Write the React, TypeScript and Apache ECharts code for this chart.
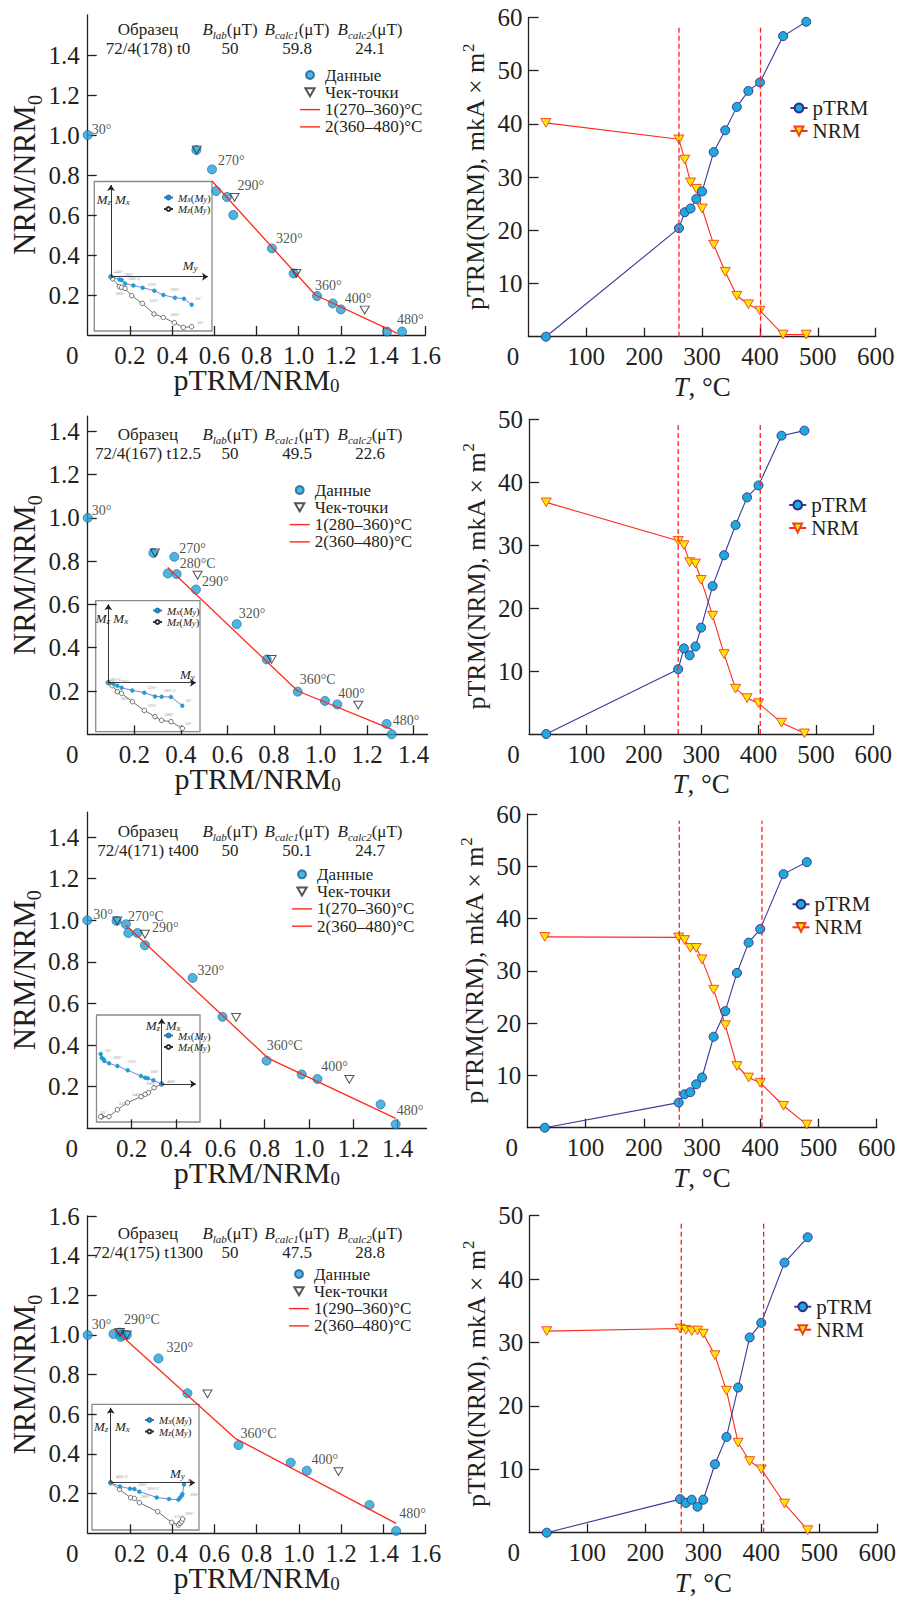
import { useEffect, useRef } from 'react';
import * as echarts from 'echarts';

const SERIF = '"Liberation Serif", "Times New Roman", Times, serif';
const INK = '#231f20';
const DOT = '#1fa3db';
const DOT_EDGE = '#1b5f8e';
const FIT = '#ff2a1a';
const TRIANGLE = 'path://M0,0L10,0L5,8.66Z';
const DASH_ICON = 'path://M0,0L20,0L20,1.4L0,1.4Z';

// ---------- heating steps, °C ----------
const temps = [30, 260, 270, 280, 290, 300, 320, 340, 360, 380, 400, 440, 480];

// ---------- pTRM acquired / NRM remaining, mkA·m² ----------
const ptrm1 = [0, 20.4, 23.4, 24.1, 25.9, 27.3, 34.7, 38.8, 43.2, 46.2, 47.8, 56.5, 59.2];
const nrm1 = [40.2, 37.1, 33.3, 29.0, 27.8, 24.1, 17.3, 12.2, 7.7, 6.1, 4.9, 0.4, 0.4];
const ptrm2 = [0, 10.3, 13.6, 12.5, 13.9, 16.9, 23.5, 28.4, 33.2, 37.6, 39.5, 47.4, 48.2];
const nrm2 = [36.8, 30.7, 30.0, 27.3, 27.1, 24.5, 18.8, 12.7, 7.2, 5.7, 4.9, 1.8, 0.1];
const ptrm3 = [0, 4.8, 6.4, 6.8, 8.3, 9.6, 17.4, 22.3, 29.6, 35.4, 38.0, 48.5, 50.8];
const nrm3 = [36.5, 36.4, 35.9, 34.4, 34.4, 32.2, 26.4, 19.6, 11.8, 9.6, 8.6, 4.2, 0.6];
const ptrm4 = [0, 5.3, 4.7, 5.2, 4.1, 5.2, 10.8, 15.1, 22.9, 30.8, 33.1, 42.6, 46.6];
const nrm4 = [31.8, 32.2, 32.0, 31.8, 31.9, 31.4, 28.0, 22.4, 14.2, 11.3, 10.0, 4.6, 0.4];

// blocking-temperature interval boundaries (dashed lines), °C
const cutoffs1 = [260, 401];
const cutoffs2 = [260, 403];
const cutoffs3 = [261, 403];
const cutoffs4 = [262, 404];

// ---------- Arai diagrams: [pTRM/NRM0, NRM/NRM0] ----------
const arai1 = [[0, 1.0], [0.515, 0.925], [0.589, 0.828], [0.609, 0.72], [0.66, 0.69], [0.69, 0.6], [0.873, 0.433], [0.976, 0.308], [1.087, 0.195], [1.161, 0.158], [1.2, 0.128], [1.419, 0.017], [1.49, 0.017]];
const checks1 = [[0.517, 0.925], [0.696, 0.688], [0.989, 0.308], [1.313, 0.125]];
const fit1 = [[0.589, 0.77], [1.079, 0.2], [1.467, 0.008]];
const fitNames1 = ['1(270–360)°C', '2(360–480)°C'];

const arai2 = [[0, 1.0], [0.282, 0.838], [0.372, 0.82], [0.344, 0.743], [0.382, 0.74], [0.465, 0.669], [0.64, 0.509], [0.769, 0.346], [0.902, 0.197], [1.019, 0.154], [1.072, 0.138], [1.284, 0.048], [1.306, 0.0]];
const checks2 = [[0.289, 0.838], [0.472, 0.735], [0.79, 0.346], [1.162, 0.135]];
const fit2 = [[0.344, 0.771], [0.902, 0.2], [1.306, 0.023]];
const fitNames2 = ['1(280–360)°C', '2(360–480)°C'];

const arai3 = [[0, 1.0], [0.132, 0.997], [0.174, 0.981], [0.185, 0.939], [0.226, 0.939], [0.26, 0.88], [0.475, 0.723], [0.61, 0.536], [0.809, 0.325], [0.967, 0.259], [1.038, 0.237], [1.323, 0.115], [1.391, 0.019]];
const checks3 = [[0.135, 0.997], [0.26, 0.933], [0.671, 0.533], [1.182, 0.235]];
const fit3 = [[0.174, 0.976], [0.817, 0.336], [1.391, 0.048]];
const fitNames3 = ['1(270–360)°C', '2(360–480)°C'];

const arai4 = [[0, 1.0], [0.122, 1.005], [0.153, 1.012], [0.162, 1.0], [0.156, 0.99], [0.185, 1.0], [0.335, 0.882], [0.472, 0.706], [0.714, 0.445], [0.961, 0.356], [1.037, 0.316], [1.334, 0.143], [1.46, 0.012]];
const checks4 = [[0.153, 1.013], [0.185, 1.0], [0.567, 0.703], [1.187, 0.311]];
const fit4 = [[0.122, 1.033], [0.698, 0.479], [1.46, 0.05]];
const fitNames4 = ['1(290–360)°C', '2(360–480)°C'];

// temperature tags: [d = data point / c = check point, index, text, dx, dy]
const tags1 = [['d', 0, '30°', 4, -6], ['d', 2, '270°', 6, -9], ['c', 1, '290°', 3, -12], ['d', 6, '320°', 4, -10], ['d', 8, '360°', -2, -11], ['c', 3, '400°', -20, -12], ['d', 12, '480°', -5, -12]];
const tags2 = [['d', 0, '30°', 4, -7], ['d', 2, '270°', 5, -8], ['d', 4, '280°C', 3, -11], ['d', 5, '290°', 6, -8], ['d', 6, '320°', 2, -11], ['d', 8, '360°C', 2, -12], ['c', 3, '400°', -20, -12], ['d', 11, '480°', 6, -3]];
const tags3 = [['d', 0, '30°', 6, -6], ['d', 2, '270°C', 2, -8], ['c', 1, '290°', 7, -7], ['d', 6, '320°', 5, -7], ['d', 8, '360°C', 0, -15], ['c', 3, '400°', -28, -13], ['d', 12, '480°', 1, -14]];
const tags4 = [['d', 0, '30°', 4, -10], ['c', 0, '290°C', 4, -13], ['d', 6, '320°', 8, -11], ['d', 8, '360°C', 2, -12], ['c', 3, '400°', -27, -12], ['d', 12, '480°', 3, -17]];

// header table
const samples = ['72/4(178) t0', '72/4(167) t12.5', '72/4(171) t400', '72/4(175) t1300'];
const bLab = [50, 50, 50, 50];
const bCalc1 = [59.8, 49.5, 50.1, 47.5];
const bCalc2 = [24.1, 22.6, 24.7, 28.8];

// ---------- orthogonal projections (relative units) ----------
const zx1 = [[0, 0], [0.83, -0.27], [1.07, -0.33], [1.4, -0.67], [2.23, -0.87], [3.17, -1.1], [4.33, -1.4], [5.23, -1.83], [6.4, -2.1], [7.3, -2.2], [8.07, -2.8]];
const zz1 = [[0, 0], [0.17, -0.2], [0.83, -1.0], [1.07, -1.07], [1.4, -1.17], [2.07, -1.9], [3.13, -2.67], [4.3, -3.73], [5.23, -4.07], [6.33, -4.6], [7.23, -5.07], [8.07, -5.0]];
const zx2 = [[0, 0], [0.5, -0.1], [0.9, -0.3], [1.33, -0.5], [2.4, -0.77], [3.6, -1.0], [4.67, -1.37], [5.33, -1.4], [6.27, -1.43], [7.4, -2.3]];
const zz2 = [[0, 0], [0.4, -0.3], [0.9, -0.9], [1.33, -1.07], [2.4, -1.9], [3.6, -2.77], [4.67, -3.4], [5.33, -3.77], [6.27, -3.9], [7.4, -4.57]];
const zx3 = [[-6.1, 3.0], [-6.0, 2.63], [-5.83, 2.47], [-5.73, 2.3], [-5.27, 2.07], [-4.43, 1.8], [-3.4, 1.37], [-2.07, 0.8], [-1.67, 0.63], [-1.4, 0.57], [-0.83, 0.37], [0, 0]];
const zz3 = [[0, 0], [-0.77, -0.37], [-1.33, -0.87], [-1.67, -1.03], [-2.07, -1.27], [-3.43, -1.87], [-4.43, -2.57], [-5.27, -3.27], [-6.0, -3.27], [-6.1, -3.27]];
const zx4 = [[0, 0], [0.93, -0.37], [1.93, -0.6], [2.37, -0.63], [2.87, -0.9], [4.6, -1.47], [5.83, -1.63], [6.77, -1.7], [6.93, -1.5], [7.1, -1.3], [7.17, -1.13], [7.33, -0.17]];
const zz4 = [[0, 0], [0.87, -0.67], [2.0, -1.5], [2.37, -1.57], [2.87, -2.0], [4.7, -2.9], [6.1, -3.97], [6.77, -4.23], [6.93, -4.07], [7.1, -3.9], [7.2, -3.63]];

// step tags on projections: [x = Mx, z = Mz, index, text, dx, dy]
const zTags1 = [['x', 0, '440°', 3, -5], ['x', 1, '380°', 5, -5], ['x', 3, '360°C', 3, -5], ['x', 5, '320°', 5, -3], ['x', 7, '280°', 7, -6], ['x', 10, '30°', 3, -6], ['z', 2, '380°', -4, 7], ['z', 6, '320°', 7, -3], ['z', 8, '280°', 7, -3], ['z', 11, '30°', 5, -4]];
const zTags2 = [['x', 0, '480°C', 1, -3], ['x', 2, '380°', 3, -4], ['x', 5, '320°', 3, -5], ['x', 7, '280°C', 2, -6], ['x', 9, '30°', 3, -5], ['z', 3, '380°', -1, 5], ['z', 5, '320°', 3, -5], ['z', 7, '280°', 3, -6], ['z', 9, '30°', 3, -5]];
const zTags3 = [['x', 0, '30°', 4, -4], ['x', 4, '280°', 4, -6], ['x', 5, '320°', 10, -5], ['x', 8, '380°', 5, -6], ['x', 11, '480°', 5, -3], ['z', 1, '380°', -8, -4], ['z', 4, '340°', -9, -2], ['z', 5, '320°', -9, 1], ['z', 8, '30°', -2, -4]];
const zTags4 = [['x', 0, '480°C', 5, -6], ['x', 2, '380°', 8, -4], ['x', 4, '360°C', 7, -3], ['x', 9, '280°', 8, -1], ['x', 11, '30°', 3, -4], ['z', 3, '380°', 6, -2], ['z', 6, '320°', 2, -6], ['z', 10, '280°', 2, -6]];

// ---------- axis tick values ----------
const ratioTicks14 = [0.2, 0.4, 0.6, 0.8, 1.0, 1.2, 1.4];
const ratioTicks16 = [0.2, 0.4, 0.6, 0.8, 1.0, 1.2, 1.4, 1.6];
const tempTicks = [100, 200, 300, 400, 500, 600];
const momentTicks50 = [10, 20, 30, 40, 50];
const momentTicks60 = [10, 20, 30, 40, 50, 60];

// ---------- layout (px) ----------
const araiFrames = [
  { left: 87.7, top: 15, width: 337.6, height: 320, xMax: 1.6, yMax: 1.6, xTicks: ratioTicks16, yTicks: ratioTicks14 },
  { left: 87.7, top: 416.1, width: 339.9, height: 318.2, xMax: 1.46, yMax: 1.47, xTicks: ratioTicks14, yTicks: ratioTicks14 },
  { left: 87.3, top: 812.1, width: 339.2, height: 316.2, xMax: 1.53, yMax: 1.52, xTicks: ratioTicks14, yTicks: ratioTicks14 },
  { left: 87.7, top: 1216, width: 338, height: 317.3, xMax: 1.6, yMax: 1.6, xTicks: ratioTicks16, yTicks: ratioTicks16 },
];
const trmFrames = [
  { left: 528.5, top: 17.5, width: 347.2, height: 319.2, yMax: 60, yTicks: momentTicks60, cutTop: 58.6 },
  { left: 529, top: 419.3, width: 344.3, height: 314.7, yMax: 50, yTicks: momentTicks50, cutTop: 49.1 },
  { left: 527.3, top: 814, width: 349.4, height: 313.7, yMax: 60, yTicks: momentTicks60, cutTop: 58.7 },
  { left: 529.3, top: 1215.7, width: 348, height: 317, yMax: 50, yTicks: momentTicks50, cutTop: 48.9 },
];
const insetFrames = [
  { left: 94.3, top: 181.5, width: 117.7, height: 149.5, ox: 111, oy: 276.7, legend: [163, 192], mz: [96.7, 199.5], mx: [115, 199.5], my: [182.7, 265] },
  { left: 95.7, top: 600.7, width: 104.3, height: 131, ox: 108.3, oy: 682.7, legend: [152, 605], mz: [95.7, 618.3], mx: [113.3, 618.3], my: [180, 674] },
  { left: 96.5, top: 1015, width: 103.5, height: 107, ox: 161.7, oy: 1084, legend: [163, 1030], mz: [145.7, 1025], mx: [165.7, 1025], my: null },
  { left: 92, top: 1404.3, width: 107, height: 125.7, ox: 110.7, oy: 1482.7, legend: [144, 1414.5], mz: [94, 1426], mx: [115, 1426], my: [170, 1473.3] },
];
const INSET_PX = 10; // px per projection unit
const araiLegendPos = [[300, 66.5], [289.7, 481.5], [292, 865.8], [289, 1265.5]];
const trmLegendPos = [[789.5, 97], [788.2, 494], [791.5, 893.3], [793.2, 1295.7]];
const headerRows = [[29, 48], [434.3, 453.3], [831, 850], [1233.3, 1252.3]];
const headerCols = [148, 230, 297, 370];

const araiSets = [
  { pts: arai1, checks: checks1, fit: fit1, names: fitNames1, tags: tags1 },
  { pts: arai2, checks: checks2, fit: fit2, names: fitNames2, tags: tags2 },
  { pts: arai3, checks: checks3, fit: fit3, names: fitNames3, tags: tags3 },
  { pts: arai4, checks: checks4, fit: fit4, names: fitNames4, tags: tags4 },
];
const trmSets = [
  { ptrm: ptrm1, nrm: nrm1, cut: cutoffs1 },
  { ptrm: ptrm2, nrm: nrm2, cut: cutoffs2 },
  { ptrm: ptrm3, nrm: nrm3, cut: cutoffs3 },
  { ptrm: ptrm4, nrm: nrm4, cut: cutoffs4 },
];
const zijSets = [
  { mx: zx1, mz: zz1, tags: zTags1 },
  { mx: zx2, mz: zz2, tags: zTags2 },
  { mx: zx3, mz: zz3, tags: zTags3 },
  { mx: zx4, mz: zz4, tags: zTags4 },
];

const axisLine = { show: true, onZero: false, lineStyle: { color: INK, width: 1.3 } };
const tickStyle = { color: INK, width: 1.3 };
const labelFont = { fontSize: 25, fontFamily: SERIF, color: INK, lineHeight: 20 };
const zeroRich = { z: { fontSize: 25, fontFamily: SERIF, color: INK, lineHeight: 20, padding: [0, 31, 0, 0] } };

function buildOption() {
  const grid: any[] = [];
  const xAxis: any[] = [];
  const yAxis: any[] = [];
  const series: any[] = [];
  const legend: any[] = [];
  const graphic: any[] = [];

  // ----- Arai diagrams -----
  araiFrames.forEach((f, i) => {
    grid.push({ left: f.left, top: f.top, width: f.width, height: f.height, outerBoundsMode: 'none' });
    xAxis.push({
      gridIndex: i, type: 'value', min: 0, max: f.xMax,
      axisLine, splitLine: { show: false },
      axisTick: { show: true, inside: true, length: 9, customValues: f.xTicks, lineStyle: tickStyle },
      axisLabel: {
        ...labelFont, margin: 10, customValues: [0, ...f.xTicks],
        formatter: (v: number) => (v === 0 ? '{z|0}' : v.toFixed(1)), rich: zeroRich,
      },
      name: 'pTRM/NRM{s|0}', nameLocation: 'middle', nameGap: 29, nameMoveOverlap: false,
      nameTextStyle: {
        fontSize: 30, fontFamily: SERIF, color: INK, lineHeight: 31,
        rich: { s: { fontSize: 19, fontFamily: SERIF, color: INK, verticalAlign: 'bottom', lineHeight: 17 } },
      },
    });
    yAxis.push({
      gridIndex: i, type: 'value', min: 0, max: f.yMax,
      axisLine, splitLine: { show: false },
      axisTick: { show: true, inside: true, length: 9, customValues: f.yTicks, lineStyle: tickStyle },
      axisLabel: { ...labelFont, margin: 8, customValues: f.yTicks, formatter: (v: number) => v.toFixed(1) },
      name: 'NRM/NRM{s|0}', nameLocation: 'middle', nameGap: 43, nameMoveOverlap: false,
      nameTextStyle: {
        fontSize: 31, fontFamily: SERIF, color: INK, lineHeight: 40,
        rich: { s: { fontSize: 20, fontFamily: SERIF, color: INK, verticalAlign: 'bottom', lineHeight: 20 } },
      },
    });
  });

  // ----- thermal curves -----
  trmFrames.forEach((f, i) => {
    const g = 4 + i;
    grid.push({ left: f.left, top: f.top, width: f.width, height: f.height, outerBoundsMode: 'none' });
    xAxis.push({
      gridIndex: g, type: 'value', min: 0, max: 600,
      axisLine, splitLine: { show: false },
      axisTick: { show: true, inside: true, length: 9, customValues: tempTicks, lineStyle: tickStyle },
      axisLabel: {
        ...labelFont, margin: 10, customValues: [0, ...tempTicks],
        formatter: (v: number) => (v === 0 ? '{z|0}' : String(v)), rich: zeroRich,
      },
      name: '{i|T}, °C', nameLocation: 'middle', nameGap: 38, nameMoveOverlap: false,
      nameTextStyle: {
        fontSize: 27, fontFamily: SERIF, color: INK, lineHeight: 24,
        rich: { i: { fontSize: 27, fontFamily: SERIF, color: INK, fontStyle: 'italic', lineHeight: 24 } },
      },
    });
    yAxis.push({
      gridIndex: g, type: 'value', min: 0, max: f.yMax,
      axisLine, splitLine: { show: false },
      axisTick: { show: true, inside: true, length: 10, customValues: f.yTicks, lineStyle: tickStyle },
      axisLabel: { ...labelFont, margin: 6, customValues: f.yTicks },
      name: 'pTRM(NRM), mkA × m{p|2}', nameLocation: 'middle', nameGap: 37, nameMoveOverlap: false,
      nameTextStyle: {
        fontSize: 26, fontFamily: SERIF, color: INK, lineHeight: 32,
        rich: { p: { fontSize: 17, fontFamily: SERIF, color: INK, verticalAlign: 'top', lineHeight: 17 } },
      },
    });
  });

  // ----- projection insets -----
  insetFrames.forEach((f) => {
    const g = grid.length;
    grid.push({
      left: f.left, top: f.top, width: f.width, height: f.height, outerBoundsMode: 'none',
      show: true, borderColor: '#8a8a8a', borderWidth: 1.3, backgroundColor: 'transparent',
    });
    xAxis.push({ gridIndex: g, type: 'value', show: false, min: (f.left - f.ox) / INSET_PX, max: (f.left + f.width - f.ox) / INSET_PX });
    yAxis.push({ gridIndex: g, type: 'value', show: false, min: (f.oy - f.top - f.height) / INSET_PX, max: (f.oy - f.top) / INSET_PX });
  });

  // Arai series
  araiSets.forEach((s, i) => {
    const ax = { xAxisIndex: i, yAxisIndex: i };
    series.push({
      name: 'Данные', type: 'scatter', ...ax, data: s.pts, symbol: 'circle', symbolSize: 9, z: 2,
      itemStyle: { color: DOT, borderColor: DOT_EDGE, borderWidth: 0.8 },
    });
    [0, 1].forEach((k) => {
      series.push({
        name: s.names[k], type: 'line', ...ax, data: [s.fit[k], s.fit[k + 1]],
        symbol: 'none', showSymbol: false, z: 3, color: FIT,
        itemStyle: { color: FIT }, lineStyle: { color: FIT, width: 1.3 },
      });
    });
    series.push({
      name: 'Чек-точки', type: 'scatter', ...ax, data: s.checks, symbol: TRIANGLE, symbolSize: [9, 7.8], z: 4,
      itemStyle: { color: 'rgba(255,255,255,0)', borderColor: '#2a2a2a', borderWidth: 1 },
    });
    series.push({
      type: 'scatter', ...ax, silent: true, symbolSize: 1, z: 5,
      itemStyle: { color: 'rgba(0,0,0,0)' },
      label: { show: true, fontSize: 14, fontFamily: SERIF, color: INK, align: 'left', verticalAlign: 'middle' },
      data: s.tags.map(([src, idx, text, dx, dy]: any) => ({
        value: (src === 'c' ? s.checks : s.pts)[idx],
        label: { formatter: text, position: [dx + 0.5, dy + 0.5] },
      })),
    });
    legend.push({
      orient: 'vertical', left: araiLegendPos[i][0], top: araiLegendPos[i][1], padding: 0,
      itemGap: 0.3, itemWidth: 20, itemHeight: 8, selectedMode: false,
      data: [
        'Данные',
        'Чек-точки',
        { name: s.names[0], icon: DASH_ICON, itemStyle: { color: FIT } },
        { name: s.names[1], icon: DASH_ICON, itemStyle: { color: FIT } },
      ],
      textStyle: { fontSize: 17, fontFamily: SERIF, color: INK, lineHeight: 17 },
    });
  });

  // thermal curve series
  trmSets.forEach((s, i) => {
    const g = 4 + i;
    const ax = { xAxisIndex: g, yAxisIndex: g };
    series.push({
      name: 'NRM', type: 'line', ...ax, z: 2,
      data: temps.map((t, k) => [t, s.nrm[k]]),
      symbol: TRIANGLE, symbolSize: [10, 8.7], showSymbol: true,
      itemStyle: { color: '#ffe600', borderColor: '#ee4124', borderWidth: 0.9 },
      lineStyle: { color: '#ff2a1c', width: 1.1 },
    });
    series.push({
      name: 'pTRM', type: 'line', ...ax, z: 3,
      data: temps.map((t, k) => [t, s.ptrm[k]]),
      symbol: 'circle', symbolSize: 9, showSymbol: true,
      itemStyle: { color: '#20a8dc', borderColor: '#2b2f86', borderWidth: 0.9 },
      lineStyle: { color: '#393b98', width: 1.1 },
    });
    s.cut.forEach((c) => {
      series.push({
        type: 'line', ...ax, z: 4, silent: true, symbol: 'none',
        data: [[c, 0], [c, trmFrames[i].cutTop]],
        lineStyle: { color: '#ff1f1f', width: 1.3, type: [5, 3] },
      });
    });
    legend.push({
      orient: 'vertical', left: trmLegendPos[i][0], top: trmLegendPos[i][1], padding: 0,
      itemGap: 1, itemWidth: 17, itemHeight: 11, selectedMode: false,
      data: ['pTRM', 'NRM'],
      textStyle: { fontSize: 21, fontFamily: SERIF, color: INK, lineHeight: 22 },
    });
  });

  // projection series
  const mRich = {
    m: { fontSize: 11, fontFamily: SERIF, color: INK, fontStyle: 'italic', lineHeight: 11 },
    s: { fontSize: 8, fontFamily: SERIF, color: INK, fontStyle: 'italic', verticalAlign: 'bottom', lineHeight: 8 },
    n: { fontSize: 11, fontFamily: SERIF, color: INK, lineHeight: 11 },
  };
  zijSets.forEach((s, i) => {
    const f = insetFrames[i];
    const g = 8 + i;
    const ax = { xAxisIndex: g, yAxisIndex: g };
    const xEnd = (f.left + f.width - f.ox) / INSET_PX - 0.4;
    const yEnd = (f.oy - f.top) / INSET_PX - 0.35;
    series.push({
      name: 'Mz(My)', type: 'line', ...ax, z: 2, data: s.mz,
      symbol: 'circle', symbolSize: 4.5, showSymbol: true,
      itemStyle: { color: '#ffffff', borderColor: '#333333', borderWidth: 0.7 },
      lineStyle: { color: '#333333', width: 0.7 },
    });
    series.push({
      name: 'Mx(My)', type: 'line', ...ax, z: 3, data: s.mx,
      symbol: 'circle', symbolSize: 4, showSymbol: true,
      itemStyle: { color: '#1d9ed8', borderColor: '#1d7fb8', borderWidth: 0.3 },
      lineStyle: { color: '#5d60c8', width: 0.8 },
      markLine: {
        silent: true, symbol: ['none', 'arrow'], symbolSize: 6, animation: false,
        label: { show: false }, emphasis: { disabled: true },
        lineStyle: { color: INK, width: 0.9, type: 'solid' },
        data: [
          [{ coord: [0, 0] }, { coord: [xEnd, 0] }],
          [{ coord: [0, 0] }, { coord: [0, yEnd] }],
        ],
      },
    });
    series.push({
      type: 'scatter', ...ax, silent: true, symbolSize: 1, z: 5,
      itemStyle: { color: 'rgba(0,0,0,0)' },
      label: { show: true, fontSize: 5, fontFamily: SERIF, color: '#777777', align: 'left', verticalAlign: 'middle' },
      data: s.tags.map(([src, idx, text, dx, dy]: any) => ({
        value: (src === 'x' ? s.mx : s.mz)[idx],
        label: { formatter: text, position: [dx + 0.5, dy + 0.5] },
      })),
    });
    legend.push({
      orient: 'vertical', left: f.legend[0], top: f.legend[1], padding: 0,
      itemGap: 0.5, itemWidth: 9, itemHeight: 5, selectedMode: false,
      data: ['Mx(My)', 'Mz(My)'],
      formatter: (name: string) => `{m|M}{s|${name === 'Mx(My)' ? 'x' : 'z'}}{n|(}{m|M}{s|y}{n|)}`,
      textStyle: { fontSize: 11, fontFamily: SERIF, color: INK, rich: mRich },
    });

    const axisRich = {
      m: { fontSize: 13, fontFamily: SERIF, fill: INK, fontStyle: 'italic', lineHeight: 14 },
      s: { fontSize: 9, fontFamily: SERIF, fill: INK, fontStyle: 'italic', verticalAlign: 'bottom', lineHeight: 9 },
    };
    const mLabel = (pos: number[] | null, sub: string) => {
      if (!pos) return;
      graphic.push({
        type: 'text', x: pos[0], y: pos[1], silent: true,
        style: { text: `{m|M}{s|${sub}}`, rich: axisRich, fontSize: 13, fontFamily: SERIF, fill: INK, align: 'left', verticalAlign: 'middle' },
      });
    };
    mLabel(f.mz, 'z');
    mLabel(f.mx, 'x');
    mLabel(f.my, 'y');
  });

  // header table above each Arai diagram
  const headRich = {
    i: { fontSize: 17, fontFamily: SERIF, fill: INK, fontStyle: 'italic', lineHeight: 22 },
    s: { fontSize: 11, fontFamily: SERIF, fill: INK, fontStyle: 'italic', verticalAlign: 'bottom', lineHeight: 12 },
    n: { fontSize: 17, fontFamily: SERIF, fill: INK, lineHeight: 22 },
  };
  const headTitles = ['Образец', '{i|B}{s|lab}{n|(μT)}', '{i|B}{s|calc1}{n|(μT)}', '{i|B}{s|calc2}{n|(μT)}'];
  headerRows.forEach(([y1, y2], r) => {
    const values = [samples[r], String(bLab[r]), String(bCalc1[r]), String(bCalc2[r])];
    headerCols.forEach((x, c) => {
      graphic.push({
        type: 'text', x, y: y1, silent: true,
        style: { text: headTitles[c], rich: headRich, fontSize: 17, fontFamily: SERIF, fill: INK, align: 'center', verticalAlign: 'middle' },
      });
      graphic.push({
        type: 'text', x, y: y2, silent: true,
        style: { text: values[c], fontSize: 17, fontFamily: SERIF, fill: INK, align: 'center', verticalAlign: 'middle' },
      });
    });
  });

  return {
    animation: false,
    backgroundColor: '#ffffff',
    textStyle: { fontFamily: SERIF, color: INK },
    grid, xAxis, yAxis, series, legend, graphic,
  };
}

export default function App() {
  const ref = useRef<HTMLDivElement>(null);
  useEffect(() => {
    if (!ref.current) return;
    const chart = echarts.init(ref.current, null, { renderer: 'svg' });
    chart.setOption(buildOption() as any);
    return () => chart.dispose();
  }, []);
  return (
    <div
      ref={ref}
      style={{ position: 'absolute', left: 0, top: 0, width: 901, height: 1599, background: '#ffffff' }}
    />
  );
}
